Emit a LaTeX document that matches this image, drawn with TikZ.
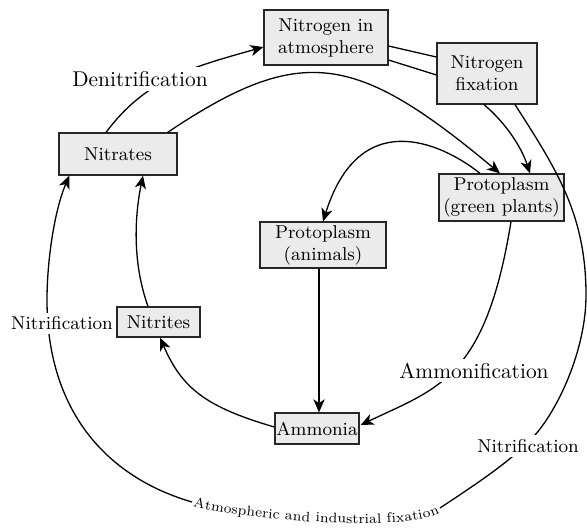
\documentclass[tikz,border=0pt]{standalone}
\usetikzlibrary{arrows.meta,calc,decorations.text}
\begin{document}
\begin{tikzpicture}[x=0.5pt,y=-0.5pt,
  box/.style={draw=black!85, line width=0.6pt, fill=black!8, inner sep=0pt, align=center, font=\fontsize{9.3}{11}\selectfont},
  conn/.style={line width=0.65pt, black},
  arr/.style={conn, -{Stealth[length=6.5pt,width=5.6pt,inset=1.8pt]}},
  lbl/.style={fill=white, inner xsep=1pt, inner ysep=2pt},
  biglbl/.style={lbl, font=\fontsize{10.7}{12}\selectfont},
  smlbl/.style={lbl, font=\fontsize{9.3}{11}\selectfont}]
\useasboundingbox (0,0) rectangle (587,527);

% boxes
\node[box, minimum width=62pt, minimum height=27.5pt] (atm) at (326,37.5) {Nitrogen in\\atmosphere};
\node[box, minimum width=50pt, minimum height=30.5pt] (fix) at (487,73.5) {Nitrogen\\fixation};
\node[box, minimum width=59pt, minimum height=21pt] (nitrates) at (118,154) {Nitrates};
\node[box, minimum width=62.5pt, minimum height=23.5pt] (green) at (501.5,197.5) {Protoplasm\\(green plants)};
\node[box, minimum width=63pt, minimum height=23pt] (animals) at (323,245) {Protoplasm\\(animals)};
\node[box, minimum width=41.5pt, minimum height=15pt] (nitrites) at (158.5,322) {Nitrites};
\node[box, minimum width=42pt, minimum height=15.5pt] (ammonia) at (317,428.5) {Ammonia};

% free ends of the outer loop around the bottom label
\coordinate (bL) at (192,502);
\coordinate (bR) at (440,508);

% Nitrates -> Nitrogen in atmosphere (denitrification)
\draw[arr] ($(nitrates.north)+(-12,0)$) .. controls +(39.7,-53) and +(-74.4,21) .. ($(atm.west)+(0,9.5)$);
% atmosphere -> fixation
\draw[conn] ($(atm.east)+(0,8.5)$) -- ($(fix.west)+(0,-16.5)$);
\draw[conn] ($(atm.east)+(0,22.5)$) -- ($(fix.west)+(0,1.5)$);
% fixation -> green plants
\draw[arr] ($(fix.south)+(-3,0)$) .. controls +(21.4,18) and +(-8.7,-26.6) .. ($(green.north)+(28.5,0)$);
% Nitrates -> green plants
\draw[arr] ($(nitrates.north east)+(-10,0)$) .. controls +(134,-90) and +(-144,-120) .. ($(green.north)+(-1.5,0)$);
% green plants -> animals
\draw[arr] ($(green.north)+(-21.5,0)$) .. controls +(-29.4,-24) and +(38.7,-122.5) .. (animals.north);
% animals -> ammonia
\draw[arr, line width=0.95pt] ($(animals.south)+(-4,0)$) -- ($(ammonia.north)+(2,0)$);
% green plants -> ammonia (ammonification)
\draw[arr] ($(green.south)+(9.5,0)$) .. controls +(-25.4,157) and +(77.4,-37) .. ($(ammonia.east)+(1,-3.5)$);
% ammonia -> nitrites
\draw[arr] ($(ammonia.west)+(0,-1.5)$) .. controls +(-68.7,-20) and +(22,50.7) .. ($(nitrites.south)+(1.5,0)$);
% nitrites -> nitrates
\draw[arr] ($(nitrites.north)+(-10.5,0)$) .. controls +(-15,-42) and +(-9,44) .. ($(nitrates.south)+(25,0)$);
% outer loop: fixation -> (right side) -> bottom
\draw[conn] ($(fix.south)+(28,0)$) .. controls (557,170) and (586,215) .. (586,295)
   .. controls (586,350) and (558,409) .. (535,435)
   .. controls (512,461) and (473,486) .. (bR);
% outer loop: bottom -> (left side) -> Nitrates
\draw[arr] (bL) .. controls (105.6,476.8) and (47,410) .. (47,300)
   .. controls (47,260) and (54.6,209.8) .. ($(nitrates.south west)+(11,0)$);
% curved label along the bottom
\path[decorate, decoration={text along path, text align=center, raise=-2.2pt,
   text={|\fontsize{6.9}{8}\selectfont|Atmospheric and industrial fixation}}]
   (bL) .. controls (230.3,513.6) and (406.6,530) .. (bR);

% labels on connectors
\node[biglbl] (ldenit) at (140,79) {Denitrification};
\node[smlbl] (lnitl) at (62,323.5) {Nitrification};
\node[biglbl] (lammon) at (474,370.5) {Ammonification};
\node[smlbl] (lnitr) at (528,446) {Nitrification};
\end{tikzpicture}
\end{document}
